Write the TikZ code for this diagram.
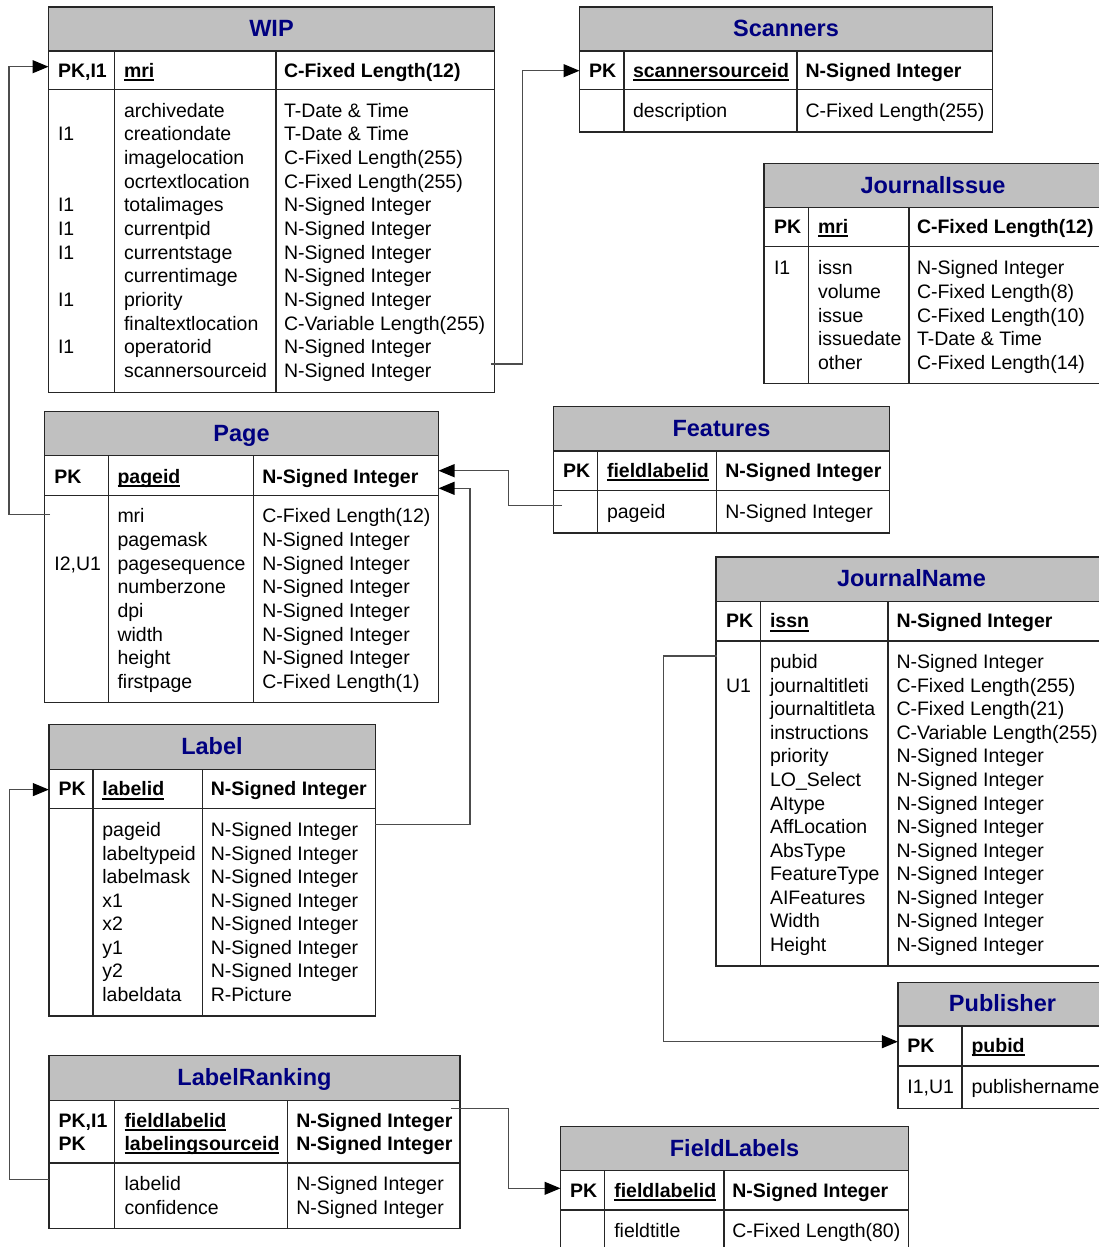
\documentclass[tikz,border=0pt]{standalone}
\usepackage{fontspec}
\setmainfont{Liberation Sans}
\usetikzlibrary{arrows.meta}
\definecolor{titleblue}{RGB}{0,0,128}
\definecolor{bandgray}{RGB}{192,192,192}
\newcommand\fs{\fontsize{19.5}{23.6}\selectfont}
\newcommand\ulpk[1]{\setbox0\hbox{#1}\rlap{\rule[-3.6pt]{\wd0}{2pt}}\box0}
% name, L, R, T, TB, HB, B, D1, D2
\newcommand\ertable[9]{%
  \node[band, minimum width={#3-#2}, minimum height={#5-#4}] (#1-title) at (#2,#4) {};
  \node[frame, minimum width={#3-#2}, minimum height={#6-#5}] (#1-head) at (#2,#5) {};
  \node[frame, minimum width={#3-#2}, minimum height={#7-#6}] (#1-body) at (#2,#6) {};
  \draw[tline] (#8,#5) -- (#8,#7);
  \draw[tline] (#9,#5) -- (#9,#7);
}
\newcommand\ertitle[4]{\node[ttl] (#1) at (#2,#3) {#4};}
% name prefix, style, x, first baseline, pitch, list
\newcommand\rows[6]{%
  \foreach \t [count=\i] in {#6} {\node[#2] (#1\i) at (#3,{#4+(\i-1)*#5}) {\t};}
}
\begin{document}
\begin{tikzpicture}[x=1pt,y=-1pt,
  band/.style={draw=black!85, line width=1.5pt, fill=bandgray, anchor=north west, inner sep=0pt, outer sep=0pt},
  frame/.style={draw=black!85, line width=1.5pt, fill=white, anchor=north west, inner sep=0pt, outer sep=0pt},
  tline/.style={draw=black!85, line width=1.5pt},
  cell/.style={anchor=base west, inner sep=0pt, outer sep=0pt, font=\fs},
  hcell/.style={anchor=base west, inner sep=0pt, outer sep=0pt, font=\fs\bfseries},
  ttl/.style={anchor=base, inner sep=0pt, font=\fontsize{23.5}{28}\selectfont\bfseries, text=titleblue},
  conn/.style={draw=black!70, line width=1.2pt},
  arr/.style={conn, -{Triangle[length=16pt,width=13pt,color=black]}}]
\useasboundingbox (0,0) rectangle (1099,1247);
\clip (0,0) rectangle (1099,1247);

% ---------- WIP ----------
\ertable{wip}{48.5}{494.5}{7}{51}{89.5}{392.5}{114.5}{276}
\ertitle{wipT}{271.5}{36.5}{WIP}
\node[hcell] (wiph1) at (58,77.7) {PK,I1};
\node[hcell] (wiph2) at (124,77.7) {\ulpk{mri}};
\node[hcell] (wiph3) at (284,77.7) {C-Fixed Length(12)};
\foreach \r in {2,5,6,7,9,11} {\node[cell] (wipk\r) at (58,{117.3+(\r-1)*23.64}) {I1};}
\rows{wipn}{cell}{124}{117.3}{23.64}{archivedate,creationdate,imagelocation,ocrtextlocation,totalimages,currentpid,currentstage,currentimage,priority,finaltextlocation,operatorid,scannersourceid}
\rows{wipt}{cell}{284}{117.3}{23.64}{T-Date \& Time,T-Date \& Time,C-Fixed Length(255),C-Fixed Length(255),N-Signed Integer,N-Signed Integer,N-Signed Integer,N-Signed Integer,N-Signed Integer,C-Variable Length(255),N-Signed Integer,N-Signed Integer}

% ---------- Scanners ----------
\ertable{scan}{579.5}{992.5}{7}{51}{89.5}{132}{624}{797}
\ertitle{scanT}{786}{36.5}{Scanners}
\node[hcell] (scanh1) at (589,77.7) {PK};
\node[hcell] (scanh2) at (633,77.7) {\ulpk{scannersourceid}};
\node[hcell] (scanh3) at (805.5,77.7) {N-Signed Integer};
\node[cell] (scann1) at (633,117.3) {description};
\node[cell] (scant1) at (805.5,117.3) {C-Fixed Length(255)};

% ---------- JournalIssue ----------
\ertable{ji}{764}{1102}{163.5}{207.5}{246.5}{383.5}{808.5}{909}
\ertitle{jiT}{933}{193}{JournalIssue}
\node[hcell] (jih1) at (774,233.7) {PK};
\node[hcell] (jih2) at (818,233.7) {\ulpk{mri}};
\node[hcell] (jih3) at (917,233.7) {C-Fixed Length(12)};
\node[cell] (jik1) at (774,274.7) {I1};
\rows{jin}{cell}{818}{274.7}{23.65}{issn,volume,issue,issuedate,other}
\rows{jit}{cell}{917}{274.7}{23.65}{N-Signed Integer,C-Fixed Length(8),C-Fixed Length(10),T-Date \& Time,C-Fixed Length(14)}

% ---------- Page ----------
\ertable{pg}{44.5}{438.5}{411.7}{455.7}{495.3}{702.7}{108.5}{253.6}
\ertitle{pgT}{241.5}{441.2}{Page}
\node[hcell] (pgh1) at (54.4,483) {PK};
\node[hcell] (pgh2) at (117.5,483) {\ulpk{pageid}};
\node[hcell] (pgh3) at (262.4,483) {N-Signed Integer};
\node[cell] (pgk3) at (54.4,{522.7+2*23.7}) {I2,U1};
\rows{pgn}{cell}{117.5}{522.7}{23.7}{mri,pagemask,pagesequence,numberzone,dpi,width,height,firstpage}
\rows{pgt}{cell}{262.4}{522.7}{23.7}{C-Fixed Length(12),N-Signed Integer,N-Signed Integer,N-Signed Integer,N-Signed Integer,N-Signed Integer,N-Signed Integer,C-Fixed Length(1)}

% ---------- Features ----------
\ertable{ft}{553.5}{889.4}{406.7}{451}{490.6}{533.2}{597.4}{716.5}
\ertitle{ftT}{721.5}{436.4}{Features}
\node[hcell] (fth1) at (563.2,477.3) {PK};
\node[hcell] (fth2) at (607,477.3) {\ulpk{fieldlabelid}};
\node[hcell] (fth3) at (725.4,477.3) {N-Signed Integer};
\node[cell] (ftn1) at (607,518.7) {pageid};
\node[cell] (ftt1) at (725.4,518.7) {N-Signed Integer};

% ---------- JournalName ----------
\ertable{jn}{716}{1107}{557.2}{601.6}{641.2}{966}{760.3}{888}
\ertitle{jnT}{911.5}{586.9}{JournalName}
\node[hcell] (jnh1) at (726,627.9) {PK};
\node[hcell] (jnh2) at (770,627.9) {\ulpk{issn}};
\node[hcell] (jnh3) at (896.5,627.9) {N-Signed Integer};
\node[cell] (jnk2) at (726,{668.6+23.58}) {U1};
\rows{jnn}{cell}{770}{668.6}{23.58}{pubid,journaltitleti,journaltitleta,instructions,priority,LO\_Select,AItype,AffLocation,AbsType,FeatureType,AIFeatures,Width,Height}
\rows{jnt}{cell}{896.5}{668.6}{23.58}{N-Signed Integer,C-Fixed Length(255),C-Fixed Length(21),C-Variable Length(255),N-Signed Integer,N-Signed Integer,N-Signed Integer,N-Signed Integer,N-Signed Integer,N-Signed Integer,N-Signed Integer,N-Signed Integer,N-Signed Integer}

% ---------- Publisher ----------
\ertable{pub}{898}{1107}{982.7}{1026}{1066}{1108.3}{962}{1200}
\ertitle{pubT}{1002.5}{1011.8}{Publisher}
\node[hcell] (pubh1) at (907.4,1052) {PK};
\node[hcell] (pubh2) at (971.5,1052) {\ulpk{pubid}};
\node[cell] (pubk1) at (907.4,1093.7) {I1,U1};
\node[cell] (pubn1) at (971.5,1093.7) {publishername};

% ---------- Label ----------
\ertable{lab}{48.8}{375.3}{724.7}{769.4}{808.4}{1015.8}{93}{202.7}
\ertitle{labT}{212}{754.5}{Label}
\node[hcell] (labh1) at (58.6,795.9) {PK};
\node[hcell] (labh2) at (102.4,795.9) {\ulpk{labelid}};
\node[hcell] (labh3) at (210.8,795.9) {N-Signed Integer};
\rows{labn}{cell}{102.4}{836.9}{23.5}{pageid,labeltypeid,labelmask,x1,x2,y1,y2,labeldata}
\rows{labt}{cell}{210.8}{836.9}{23.5}{N-Signed Integer,N-Signed Integer,N-Signed Integer,N-Signed Integer,N-Signed Integer,N-Signed Integer,N-Signed Integer,R-Picture}

% ---------- LabelRanking ----------
\ertable{lr}{48.8}{460.2}{1055.5}{1100.5}{1163}{1228.6}{114.7}{287.6}
\ertitle{lrT}{254.5}{1085.5}{LabelRanking}
\node[hcell] (lrh1) at (58.6,1127) {PK,I1};
\node[hcell] (lrh2) at (58.6,1150) {PK};
\node[hcell] (lrh3) at (124.5,1127) {\ulpk{fieldlabelid}};
\node[hcell] (lrh4) at (124.5,1150) {\ulpk{labelingsourceid}};
\node[hcell] (lrh5) at (296.4,1127) {N-Signed Integer};
\node[hcell] (lrh6) at (296.4,1150) {N-Signed Integer};
\rows{lrn}{cell}{124.5}{1190.9}{23.5}{labelid,confidence}
\rows{lrt}{cell}{296.4}{1190.9}{23.5}{N-Signed Integer,N-Signed Integer}

% ---------- FieldLabels ----------
\ertable{fl}{560.5}{908.6}{1126.7}{1170.7}{1210}{1262}{604.4}{724}
\ertitle{flT}{734.5}{1156.2}{FieldLabels}
\node[hcell] (flh1) at (570,1197) {PK};
\node[hcell] (flh2) at (614.3,1197) {\ulpk{fieldlabelid}};
\node[hcell] (flh3) at (732.3,1197) {N-Signed Integer};
\node[cell] (fln1) at (614.3,1237.7) {fieldtitle};
\node[cell] (flt1) at (732.3,1237.7) {C-Fixed Length(80)};

% ---------- connectors ----------
\coordinate (pgfk) at (50,514.3);
\coordinate (wippk) at (48.5,66.7);
\coordinate (m1) at (9,0);
\draw[arr] (pgfk) -- (pgfk -| m1) -- (m1 |- wippk) -- (wippk);

\coordinate (wipfk) at (491,364);
\coordinate (scanpk) at (579.5,70.7);
\coordinate (m2) at (522.5,0);
\draw[arr] (wipfk) -- (wipfk -| m2) -- (m2 |- scanpk) -- (scanpk);

\coordinate (ftfk) at (562,505.4);
\coordinate (pgpka) at (438.5,470.7);
\coordinate (m3) at (508.6,0);
\draw[arr] (ftfk) -- (ftfk -| m3) -- (m3 |- pgpka) -- (pgpka);

\coordinate (labfk) at (375.3,824.2);
\coordinate (pgpkb) at (438.5,488.3);
\coordinate (m4) at (470,0);
\draw[arr] (labfk) -- (labfk -| m4) -- (m4 |- pgpkb) -- (pgpkb);

\coordinate (lrfk) at (49,1179.8);
\coordinate (labpk) at (48.8,789.6);
\coordinate (m5) at (9.5,0);
\draw[arr] (lrfk) -- (lrfk -| m5) -- (m5 |- labpk) -- (labpk);

\coordinate (lrfkb) at (451.4,1108.3);
\coordinate (flpk) at (560.5,1188.3);
\coordinate (m6) at (508.8,0);
\draw[arr] (lrfkb) -- (lrfkb -| m6) -- (m6 |- flpk) -- (flpk);

\coordinate (jnfk) at (717,656);
\coordinate (pubpk) at (897.8,1041.7);
\coordinate (m7) at (663.7,0);
\draw[arr] (jnfk) -- (jnfk -| m7) -- (m7 |- pubpk) -- (pubpk);
\end{tikzpicture}
\end{document}
